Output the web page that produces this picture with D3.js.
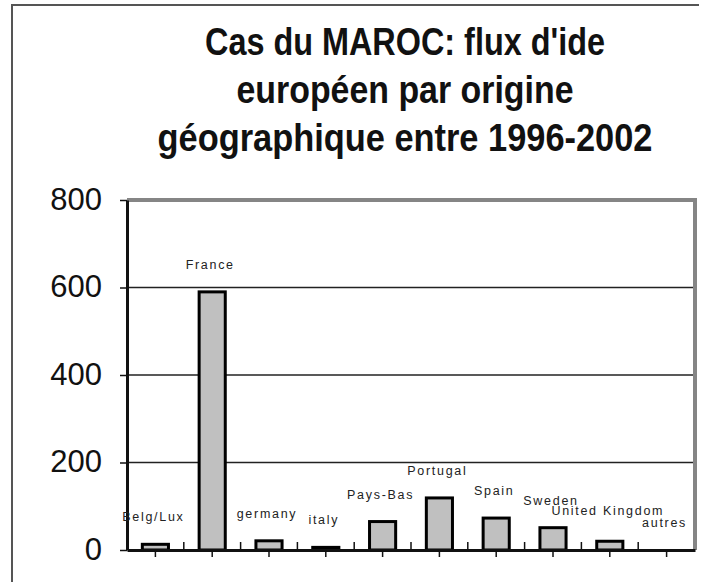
<!DOCTYPE html>
<html>
<head>
<meta charset="utf-8">
<script src="https://cdn.jsdelivr.net/npm/d3@7"></script>
<style>
  body { margin: 0; background: #fff; }
  svg { display: block; font-family: "Liberation Sans", Arial, sans-serif; }
</style>
</head>
<body>
<svg id="chart"></svg>
<script>
// flux d'IDE europeen au Maroc, 1996-2002
var origines = ["Belg/Lux", "France", "germany", "italy", "Pays-Bas", "Portugal", "Spain", "Sweden", "United Kingdom", "autres"]
var flux = [13, 590, 21, 6, 65, 119, 73, 51, 20, 0]
var yTicks = [0, 200, 400, 600, 800]
var titre = ["Cas du MAROC: flux d'ide", "européen par origine", "géographique entre 1996-2002"]

var width = 704
var height = 582
var margin = ({top: 200, right: 9, bottom: 32, left: 127})

var svg = d3.select("#chart")
  .attr("width", width)
  .attr("height", height)

// outer frame (only top + left visible in the original)
svg.append("path")
  .attr("d", d3.line()([[12, 582], [12, 5], [699, 5]]))
  .attr("fill", "none")
  .attr("stroke", "#555")
  .attr("stroke-width", 2)

// title, 3 lines, condensed bold
var titleWidths = [400, 337, 495]
var titleBase = [55, 103, 151]
svg.append("g")
  .selectAll("text")
  .data(titre)
  .join("text")
    .attr("x", 405)
    .attr("y", (d, i) => titleBase[i])
    .attr("text-anchor", "middle")
    .attr("font-weight", "bold")
    .attr("font-size", 38)
    .attr("textLength", (d, i) => titleWidths[i])
    .attr("lengthAdjust", "spacingAndGlyphs")
    .attr("fill", "#111")
    .text(d => d)

var x = d3.scaleBand()
  .domain(origines)
  .range([margin.left, width - margin.right])
  .paddingInner(0.54)
  .paddingOuter(0.27)

var xb = d3.scaleBand()
  .domain(origines)
  .range([margin.left, width - margin.right])

var y = d3.scaleLinear()
  .domain([0, 800])
  .range([height - margin.bottom, margin.top])

// gridlines
svg.append("g")
  .selectAll("line")
  .data(yTicks.filter(d => d > 0 && d < 800))
  .join("line")
    .attr("x1", margin.left)
    .attr("x2", width - margin.right)
    .attr("y1", d => y(d))
    .attr("y2", d => y(d))
    .attr("stroke", "#222")
    .attr("stroke-width", 1.5)

// plot area border (grey, top + right)
svg.append("path")
  .attr("d", d3.line()([[margin.left, y(800)], [width - margin.right, y(800)], [width - margin.right, y(0)]]))
  .attr("fill", "none")
  .attr("stroke", "#858585")
  .attr("stroke-width", 4)

// bars
svg.append("g")
  .selectAll("rect")
  .data(flux)
  .join("rect")
    .attr("x", (d, i) => x(origines[i]))
    .attr("width", x.bandwidth())
    .attr("y", d => y(d))
    .attr("height", d => y(0) - y(d))
    .attr("fill", "#c0c0c0")
    .attr("stroke", "#000")
    .attr("stroke-width", 3)

// y axis
var yAxis = g => g
  .attr("transform", `translate(${margin.left},0)`)
  .call(d3.axisLeft(y).tickValues(yTicks).tickSize(7).tickPadding(18).tickSizeOuter(0))
  .call(g => g.select(".domain").attr("stroke-width", 3).attr("stroke", "#111"))
  .call(g => g.selectAll(".tick line").attr("stroke-width", 1.5).attr("stroke", "#111"))
  .call(g => g.selectAll(".tick text")
      .attr("font-family", "Liberation Sans, Arial, sans-serif")
      .attr("font-size", 31)
      .attr("fill", "#111")
      .attr("dy", "0.3em"))

svg.append("g").call(yAxis)

// x axis: ticks down at the category centres, ticks up between categories
var xAxis = g => g
  .attr("transform", `translate(0,${y(0)})`)
  .call(d3.axisBottom(xb).tickSize(7).tickSizeOuter(0).tickFormat(""))
  .call(g => g.select(".domain").attr("stroke-width", 3).attr("stroke", "#111"))
  .call(g => g.selectAll(".tick line").attr("stroke-width", 1.5).attr("stroke", "#111"))

svg.append("g").call(xAxis)

svg.append("g")
  .selectAll("line")
  .data(origines.slice(1))
  .join("line")
    .attr("x1", d => xb(d))
    .attr("x2", d => xb(d))
    .attr("y1", y(0))
    .attr("y2", y(0) - 8)
    .attr("stroke", "#111")
    .attr("stroke-width", 1.5)

// category labels above each bar
// (UK label sits a bit higher in the original so it clears "autres")
svg.append("g")
  .selectAll("text")
  .data(flux)
  .join("text")
    .attr("x", (d, i) => x(origines[i]) + x.bandwidth() / 2 - 2)
    .attr("y", (d, i) => y(d) - 23 - (origines[i] == "United Kingdom" ? 3 : 0))
    .attr("text-anchor", "middle")
    .attr("font-size", 12.5)
    .attr("letter-spacing", 1.7)
    .attr("fill", "#222")
    .text((d, i) => origines[i])
</script>
</body>
</html>
